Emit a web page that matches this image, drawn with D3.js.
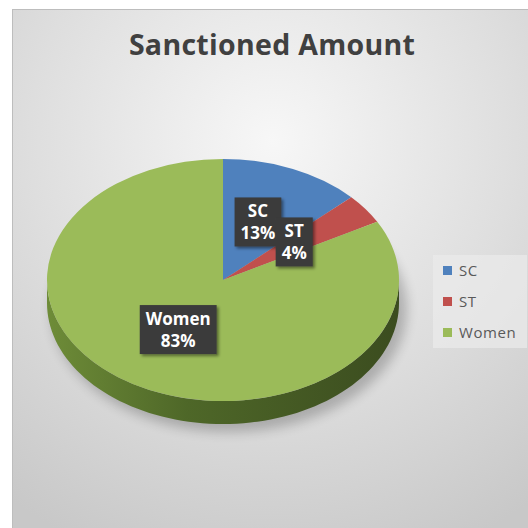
<!DOCTYPE html>
<html><head><meta charset="utf-8">
<script src="https://cdn.jsdelivr.net/npm/d3@7"></script>
<style>html,body{margin:0;padding:0;background:#fff;}svg{display:block;}</style>
</head><body>
<svg id="c" width="528" height="528"></svg>
<script>
const title = "Sanctioned Amount";
const categories = ["SC", "ST", "Women"];
const values = [13, 4, 83];
const colors = ["#4f81bd", "#c0504d", "#9bbb59"];

const svg = d3.select("#c");
const defs = svg.append("defs");

const bg = defs.append("radialGradient").attr("id","bg").attr("cx","50%").attr("cy","25%").attr("r","85%");
bg.append("stop").attr("offset","0%").attr("stop-color","#f7f7f7");
bg.append("stop").attr("offset","55%").attr("stop-color","#dedede");
bg.append("stop").attr("offset","100%").attr("stop-color","#c8c8c8");

const side = defs.append("linearGradient").attr("id","side").attr("x1","0%").attr("x2","100%");
side.append("stop").attr("offset","0%").attr("stop-color","#6e8c38");
side.append("stop").attr("offset","40%").attr("stop-color","#4e6728");
side.append("stop").attr("offset","100%").attr("stop-color","#3b4c1f");

const blur = defs.append("filter").attr("id","blur").attr("x","-20%").attr("y","-20%").attr("width","140%").attr("height","140%");
blur.append("feGaussianBlur").attr("stdDeviation",6);

const ds = defs.append("filter").attr("id","ds").attr("x","-20%").attr("y","-20%").attr("width","150%").attr("height","150%");
ds.append("feDropShadow").attr("dx",2).attr("dy",2).attr("stdDeviation",1.5).attr("flood-color","#000").attr("flood-opacity",0.45);

// chart background
svg.append("rect").attr("x",12.5).attr("y",9.5).attr("width",520).attr("height",524)
  .attr("fill","url(#bg)").attr("stroke","#bdbdbd").attr("stroke-width",1);

svg.append("text").attr("x",272).attr("y",55).attr("text-anchor","middle")
  .attr("font-family","Open Sans").attr("font-weight",700).attr("font-size",28.5)
  .attr("letter-spacing",0.3)
  .attr("fill","#404040").text(title);

const cx = 223, cy = 280, rx = 176, ry = 121, depth = 23;
const pie = d3.pie().sort(null).value(d => d)(values);

function pt(a, r, dy){ return [cx + rx*r*Math.sin(a), cy - ry*r*Math.cos(a) + (dy||0)]; }

// shadow
svg.append("ellipse").attr("cx",cx+6).attr("cy",cy+depth+6).attr("rx",rx+2).attr("ry",ry+2)
  .attr("fill","#000").attr("opacity",0.22).attr("filter","url(#blur)");

// side walls
const gSide = svg.append("g");
pie.forEach((p,i) => {
  const a0 = Math.max(p.startAngle, Math.PI/2), a1 = Math.min(p.endAngle, 3*Math.PI/2);
  if (a1 <= a0) return;
  const n = 80, top = [], bot = [];
  for (let k=0;k<=n;k++){ const a = a0 + (a1-a0)*k/n; top.push(pt(a,1)); bot.push(pt(a,1,depth)); }
  const pts = top.concat(bot.reverse());
  gSide.append("path").attr("d", d3.line()(pts)+"Z").attr("fill", i===2 ? "url(#side)" : d3.color(colors[i]).darker(1.2));
});

// top face
const arc = d3.arc().innerRadius(0).outerRadius(rx);
svg.append("g").attr("transform",`translate(${cx},${cy}) scale(1,${ry/rx})`)
  .selectAll("path").data(pie).join("path")
  .attr("d", arc).attr("fill", (d,i) => colors[i]);

// labels
const lab = svg.append("g");
pie.forEach((p,i) => {
  const m = (p.startAngle + p.endAngle)/2;
  const [x,y] = pt(m, 0.5, -3);
  const g = lab.append("g").attr("transform",`translate(${x},${y})`);
  const rect = g.append("rect").attr("fill","#3a3a3a").attr("filter","url(#ds)");
  const t = g.append("text").attr("text-anchor","middle").attr("font-family","Open Sans")
    .attr("font-weight",700).attr("font-size",17).attr("fill","#ffffff");
  t.append("tspan").attr("x",0).attr("y",-4).text(categories[i]);
  t.append("tspan").attr("x",0).attr("y",18).text(values[i]+"%");
  const b = t.node().getBBox();
  rect.attr("x", b.x-6).attr("y", b.y-2).attr("width", b.width+12).attr("height", b.height+4);
});

// legend
const lg = svg.append("g");
lg.append("rect").attr("x",433).attr("y",255).attr("width",94).attr("height",93).attr("fill","#ebebeb").attr("opacity",0.7);
categories.forEach((c,i) => {
  const y = 271 + i*31;
  lg.append("rect").attr("x",443).attr("y",y-5).attr("width",9).attr("height",9).attr("fill",colors[i]);
  lg.append("text").attr("x",459).attr("y",y+5).attr("font-family","Open Sans").attr("font-size",15)
    .attr("letter-spacing",0.6).attr("fill","#595959").text(c);
});
</script>
</body></html>
